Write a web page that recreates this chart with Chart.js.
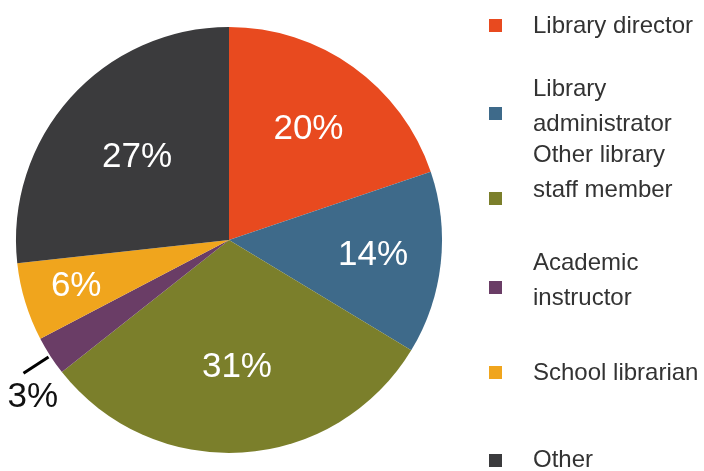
<!DOCTYPE html>
<html lang="en">
<head>
    <meta charset="UTF-8">
    <title>Role of respondents</title>
    <script src="https://cdn.jsdelivr.net/npm/chart.js@4.4.1/dist/chart.umd.min.js"></script>
    <style>
        html, body {
            margin: 0;
            padding: 0;
            background: #fff;
        }
        #wrap {
            width: 704px;
            height: 471px;
        }
    </style>
</head>
<body>
    <div id="wrap">
        <canvas id="pie" width="704" height="471"></canvas>
    </div>

    <script>
        // data
        const roles = [
            ['Library director'],
            ['Library', 'administrator'],
            ['Other library', 'staff member'],
            ['Academic', 'instructor'],
            ['School librarian'],
            ['Other']
        ];
        const shares = [20, 14, 31, 3, 6, 27];
        const sliceColors = ['#e84a1f', '#3e6a8a', '#7b7f2b', '#6a3d66', '#f0a51d', '#3b3b3d'];

        const FONT = '"Liberation Sans", Arial, Helvetica, sans-serif';

        // where the percent sits along the slice radius (null = outside with a leader line)
        const labelDepth = [0.64, 0.68, 0.6, null, 0.75, 0.58];

        // legend layout: square centre y and first text baseline for each entry
        const legendSquareY = [25, 113, 198, 287, 372, 460];
        const legendTextY = [33, 96, 162, 270, 380, 467];

        const pctLabels = {
            id: 'pctLabels',
            afterDatasetsDraw(chart) {
                const ctx = chart.ctx;
                const meta = chart.getDatasetMeta(0);
                ctx.save();
                ctx.font = '35px ' + FONT;
                ctx.textAlign = 'center';
                ctx.textBaseline = 'middle';
                meta.data.forEach((arc, i) => {
                    const p = arc.getProps(['x', 'y', 'startAngle', 'endAngle', 'outerRadius'], true);
                    const mid = (p.startAngle + p.endAngle) / 2;
                    const text = shares[i] + '%';
                    if (labelDepth[i] != null) {
                        const r = p.outerRadius * labelDepth[i];
                        ctx.fillStyle = '#ffffff';
                        ctx.fillText(text, p.x + Math.cos(mid) * r, p.y + Math.sin(mid) * r);
                    } else {
                        // small slice: label outside with a short line
                        const r1 = p.outerRadius * 1.01, r2 = p.outerRadius * 1.15;
                        ctx.strokeStyle = '#000';
                        ctx.lineWidth = 3;
                        ctx.beginPath();
                        ctx.moveTo(p.x + Math.cos(mid) * r1, p.y + Math.sin(mid) * r1);
                        ctx.lineTo(p.x + Math.cos(mid) * r2, p.y + Math.sin(mid) * r2);
                        ctx.stroke();
                        const a = mid - 0.1, rt = p.outerRadius * 1.18;
                        ctx.fillStyle = '#111';
                        ctx.fillText(text, p.x + Math.cos(a) * rt, p.y + Math.sin(a) * rt);
                    }
                });
                ctx.restore();
            }
        };

        const sideLegend = {
            id: 'sideLegend',
            afterDraw(chart) {
                const ctx = chart.ctx;
                const colors = chart.data.datasets[0].backgroundColor;
                ctx.save();
                ctx.font = '24px ' + FONT;
                ctx.textAlign = 'left';
                ctx.textBaseline = 'alphabetic';
                chart.data.labels.forEach((lines, i) => {
                    ctx.fillStyle = colors[i];
                    ctx.fillRect(489, legendSquareY[i] - 6, 13, 13);
                    ctx.fillStyle = '#333333';
                    lines.forEach((line, j) => {
                        ctx.fillText(line, 533, legendTextY[i] + j * 35);
                    });
                });
                ctx.restore();
            }
        };

        const ctx = document.getElementById('pie').getContext('2d');
        const chart = new Chart(ctx, {
            type: 'pie',
            data: {
                labels: roles,
                datasets: [{
                    data: shares,
                    backgroundColor: sliceColors,
                    borderWidth: 0
                }]
            },
            options: {
                responsive: false,
                animation: false,
                layout: {
                    padding: { left: 16, right: 262, top: 27, bottom: 18 }
                },
                plugins: {
                    legend: { display: false },
                    tooltip: { enabled: false }
                }
            },
            plugins: [pctLabels, sideLegend]
        });
    </script>
</body>
</html>
